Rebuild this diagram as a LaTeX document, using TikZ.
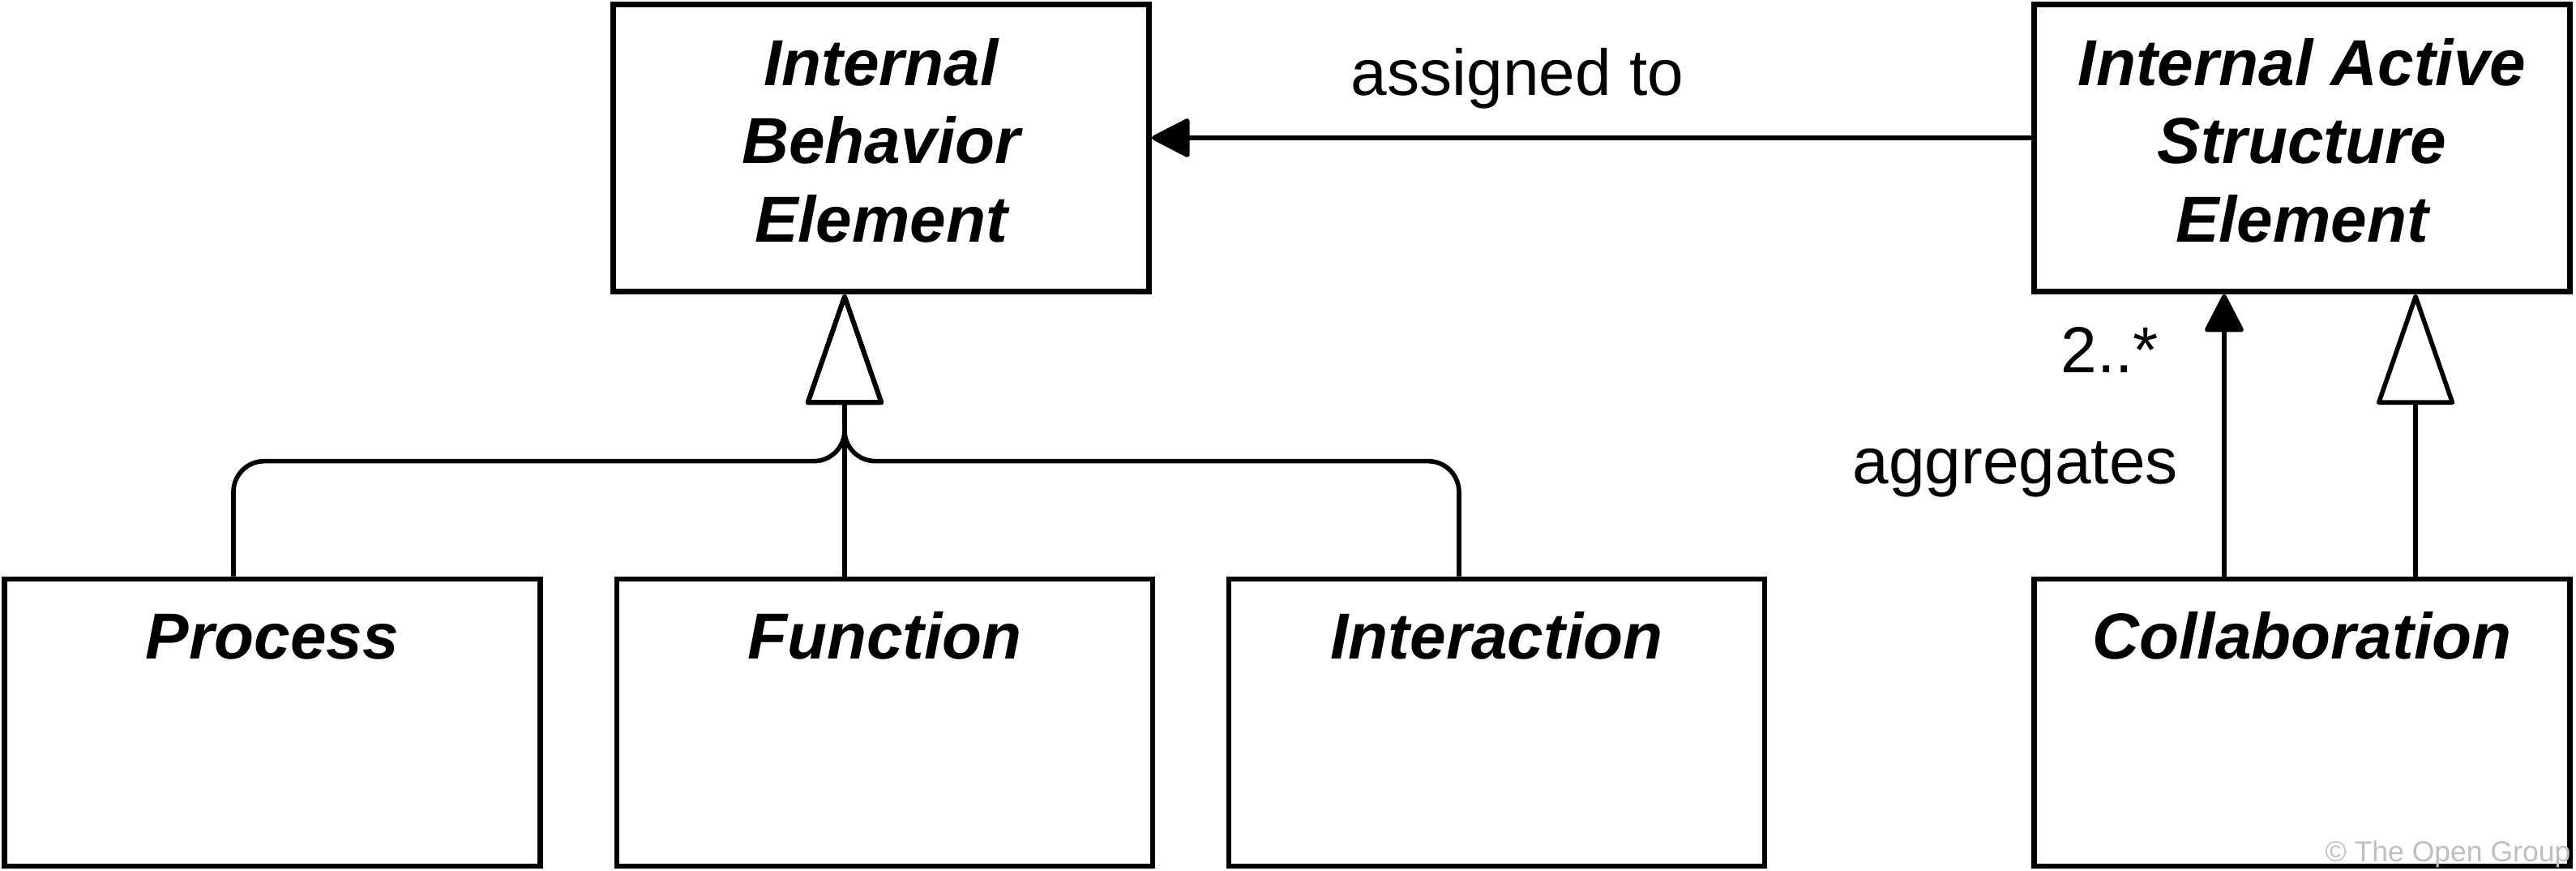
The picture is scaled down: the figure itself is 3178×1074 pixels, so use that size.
\documentclass[tikz,border=0pt]{standalone}
\usepackage{fontspec}
\setmainfont{Liberation Sans}
\usetikzlibrary{arrows.meta}
\definecolor{cprgray}{RGB}{190,190,190}
\begin{document}
\begin{tikzpicture}[x=0.01cm,y=-0.01cm,
  box/.style={draw=black, line width=1.85pt, rectangle, inner sep=0pt,
    minimum width=6.61cm, minimum height=3.54cm,
    font=\fontsize{22.8}{27.4}\selectfont\bfseries\itshape},
  topbox/.style={box, align=center, text height=2.925cm, text depth=0.615cm},
  lowbox/.style={box, text height=0.99cm, text depth=2.55cm},
  lbl/.style={inner sep=0pt, font=\fontsize{22.8}{27.4}\selectfont},
  conn/.style={line width=1.6pt},
  gen/.style={conn, -{Triangle[open, length=1.42cm, width=0.97cm, round]}, rounded corners=0.38cm},
  solidhead/.style={conn, -{Triangle[length=0.5cm, width=0.5cm, round]}},
]
\useasboundingbox (0,0) rectangle (3178,1074);

% boxes
\node[topbox] (ibe)  at (1087,182.5) {Internal\\Behavior\\Element};
\node[topbox] (iase) at (2840,182.5) {Internal Active\\Structure\\Element};
\node[lowbox] (proc) at (336,891)    {Process};
\node[lowbox] (fun)  at (1091.5,891) {Function};
\node[lowbox] (int)  at (1846.5,891) {Interaction};
\node[lowbox] (col)  at (2840,891)   {Collaboration};

% generalization tree to Internal Behavior Element
\coordinate (gtip) at ([xshift=-0.45cm]ibe.south);
\draw[gen] ([xshift=-0.48cm]proc.north) -- ++(0,-142) -| (gtip);
\draw[gen] ([xshift=-0.465cm]int.north) -- ++(0,-142) -| (gtip);
\draw[gen] (fun.north -| gtip) -- (gtip);

% assigned to
\draw[solidhead] ([yshift=0.125cm]iase.west) -- ([yshift=0.125cm]ibe.east);
\node[lbl, anchor=base] (lassigned) at (1872,118) {assigned to};

% aggregates
\draw[solidhead] ([xshift=-0.96cm]col.north) -- ([xshift=-0.96cm]iase.south);
\node[lbl, anchor=base west] (lmult) at (2542,460) {2..*};
\node[lbl, anchor=base west] (laggr) at (2285,597) {aggregates};

% specialization
\draw[gen] ([xshift=1.4cm]col.north) -- ([xshift=1.4cm]iase.south);

% copyright
\node[inner sep=0pt, anchor=base east, text=cprgray, font=\fontsize{10.1}{12}\selectfont] (copy) at (3172,1063) {© The Open Group};
\end{tikzpicture}
\end{document}
